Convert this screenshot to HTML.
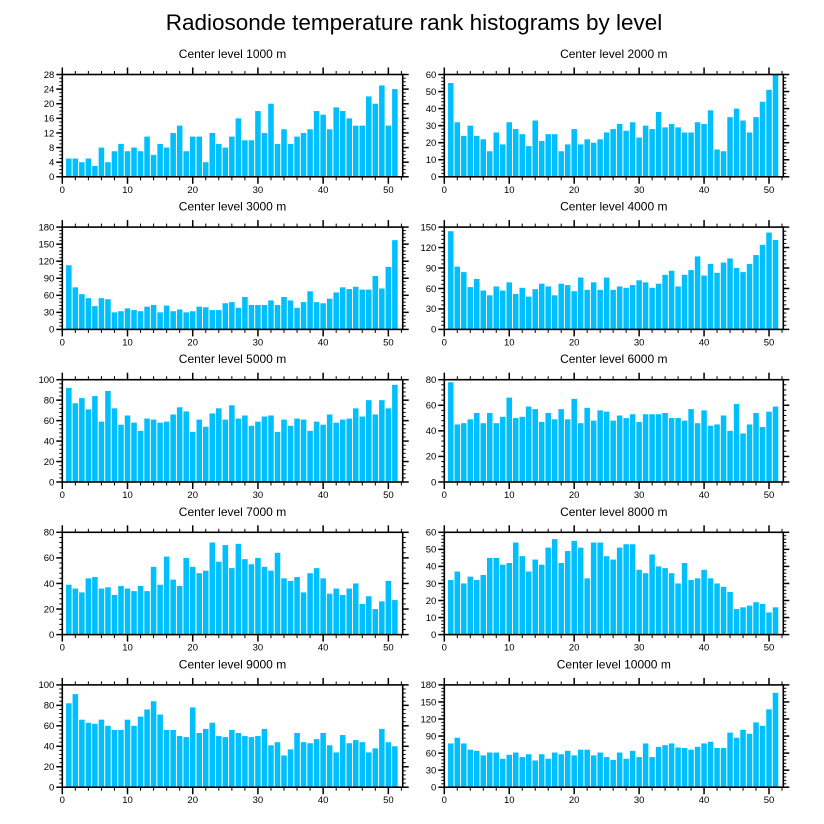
<!DOCTYPE html>
<html><head><meta charset="utf-8"><style>
html,body{margin:0;padding:0;background:#fff;}
svg{display:block;font-family:"Liberation Sans",sans-serif;}
</style></head><body>
<svg id="chart" width="824" height="824" viewBox="0 0 824 824" xmlns="http://www.w3.org/2000/svg">
<text x="414" y="30" font-size="22.5" text-anchor="middle" fill="#000">Radiosonde temperature rank histograms by level</text>
</svg>
<script>
const levels = ["1000","2000","3000","4000","5000","6000","7000","8000","9000","10000"];
const yMaxes = [28,60,180,150,100,80,80,60,100,180];
const ySteps = [4,10,30,30,20,20,20,10,20,30];
const xTicks = [0,10,20,30,40,50];
const s1000 = [5,5,4,5,3,8,4,7,9,7,8,7,11,6,9,8,12,14,7,11,11,4,12,9,8,11,16,10,10,18,12,20,9,13,9,11,12,13,18,17,13,19,18,16,14,14,22,20,25,14,24];
const s2000 = [55,32,24,30,24,22,15,26,19,32,28,25,18,33,21,25,25,15,19,28,19,22,20,22,26,28,31,27,32,23,30,28,38,29,31,29,26,26,32,31,39,16,15,35,40,33,26,35,44,51,60];
const s3000 = [113,74,62,55,41,55,53,30,32,37,34,32,40,43,30,42,32,35,30,32,40,39,34,34,46,48,38,57,43,43,43,51,43,57,51,38,48,67,48,46,54,65,74,71,75,70,70,94,72,110,157];
const s4000 = [144,92,84,62,74,57,50,63,57,69,52,61,48,59,67,63,50,67,65,56,76,58,69,58,76,58,63,61,65,72,69,61,67,80,86,63,80,87,107,79,96,83,98,104,90,84,96,109,124,142,131];
const s5000 = [92,77,82,71,84,59,89,72,56,65,58,50,62,61,58,59,66,73,69,49,61,54,67,72,61,75,62,65,55,59,64,65,49,61,55,62,61,50,59,56,66,58,61,62,72,64,80,66,80,72,95];
const s6000 = [78,45,46,49,54,46,54,46,51,66,50,51,59,57,47,54,49,57,49,65,46,58,48,56,55,48,52,50,53,47,53,53,53,54,50,50,48,57,46,56,44,45,52,40,61,38,45,54,43,55,59];
const s7000 = [39,36,33,44,45,36,37,31,38,36,34,38,34,53,39,61,43,38,60,53,48,50,72,57,70,52,71,59,55,60,53,50,64,44,42,45,33,48,52,44,32,36,31,36,40,24,30,20,26,42,27];
const s8000 = [32,37,30,34,32,35,45,45,41,42,54,46,37,44,41,51,56,42,49,55,51,33,54,54,46,44,51,53,53,38,36,47,40,39,36,30,42,32,33,38,33,30,28,25,15,16,17,19,18,13,16];
const s9000 = [82,91,66,63,62,66,60,56,56,66,60,69,76,84,71,56,56,50,49,78,53,57,63,50,49,56,53,50,49,50,57,41,44,31,37,53,44,43,47,53,41,34,51,43,46,44,34,38,57,44,40];
const s10000 = [77,87,77,66,64,56,61,61,50,57,61,53,58,47,58,50,61,58,64,56,66,66,56,61,53,48,61,50,64,53,77,53,71,74,77,70,69,66,71,77,80,69,69,96,87,101,94,114,108,137,166];
const series = [s1000,s2000,s3000,s4000,s5000,s6000,s7000,s8000,s9000,s10000];

const svg = document.getElementById('chart');
const NS = 'http://www.w3.org/2000/svg';
const XMAX = 52.2;
function mk(tag, attrs, parent){const e=document.createElementNS(NS,tag);for(const k in attrs)e.setAttribute(k,attrs[k]);parent.appendChild(e);return e;}

for(let p=0;p<10;p++){
  const col=p%2,row=Math.floor(p/2);
  const L = col===0?62.3:444.3, R = col===0?402.7:783.3;
  const T = 74.5+row*152.6, H=102.3, B=T+H;
  const xs = v=>L+(v/XMAX)*(R-L);
  const ys = v=>B-(v/yMaxes[p])*H;
  const g=mk('g',{},svg);
  
  
  const t=mk('text',{x:(L+R)/2,y:T-16.5,'font-size':'12','text-anchor':'middle',fill:'#000'},g);
  t.textContent='Center level '+levels[p]+' m';
  
  
  const bw=(xs(1)-xs(0))*0.85;
  series[p].forEach((v,i)=>{
    const x=xs(i+1);
    const r=mk('rect',{x:x-bw/2,y:ys(v),width:bw,height:B-ys(v),fill:'#00BFFF'},g);
    
    
  });
  const fr=mk('rect',{x:L,y:T,width:R-L,height:H,fill:'none',stroke:'#000','stroke-width':'1.6'},g);
  
  
  for(let v=0;v<=52;v+=2){
    const major=v%10===0, len=major?7:3.5, x=xs(v);
    mk('line',{x1:x,x2:x,y1:B,y2:B+len,stroke:'#000','stroke-width':major?1.5:1},g);
    mk('line',{x1:x,x2:x,y1:T,y2:T-len,stroke:'#000','stroke-width':major?1.5:1},g);
  }
  xTicks.forEach(v=>{
    const tx=mk('text',{x:xs(v),y:B+16,'font-size':'9.5','text-anchor':'middle',fill:'#000'},g);
    tx.textContent=v;
    
    
  });
  const st=ySteps[p], sub=(st===4)?4:5, ms=st/sub;
  for(let k=0;k*ms<=yMaxes[p]+1e-6;k++){
    const v=k*ms, major=k%sub===0, len=major?6:3, y=ys(v);
    mk('line',{x1:L,x2:L-len,y1:y,y2:y,stroke:'#000','stroke-width':major?1.5:1},g);
    mk('line',{x1:R,x2:R+len,y1:y,y2:y,stroke:'#000','stroke-width':major?1.5:1},g);
    if(major){
      const ty=mk('text',{x:L-8,y:y+3.3,'font-size':'9.5','text-anchor':'end',fill:'#000'},g);
      ty.textContent=v;
      
      
    }
  }
}
</script>
</body></html>
